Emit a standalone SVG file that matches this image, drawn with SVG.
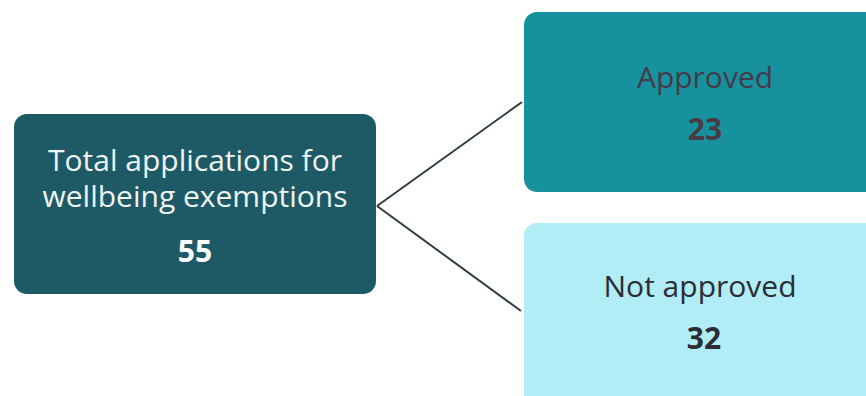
<svg xmlns="http://www.w3.org/2000/svg" width="866" height="396" viewBox="0 0 866 396">
<style>
.t{font-family:"Open Sans","Noto Sans","Liberation Sans",sans-serif;font-size:30px;text-anchor:middle}
.b{font-weight:bold}
.ln{stroke:#2e3d3e;stroke-width:2;fill:none}
</style>
<rect width="866" height="396" fill="#ffffff"/>
<g id="connectors">
<path class="ln" d="M377 206 L522 102"/>
<path class="ln" d="M377 206 L521 311"/>
</g>
<g id="total">
<rect x="14" y="114" width="362" height="180" rx="13" fill="#1e5a66"/>
<text class="t" x="195" y="171" fill="#eef4f4">Total applications for</text>
<text class="t" x="195" y="207" fill="#eef4f4">wellbeing exemptions</text>
<text class="t b" x="195" y="262" fill="#ffffff">55</text>
</g>
<g id="approved">
<rect x="524" y="12" width="360" height="180" rx="13" fill="#17919e"/>
<text class="t" x="705" y="88" fill="#443a4a">Approved</text>
<text class="t b" x="705" y="140" fill="#4a3a45">23</text>
</g>
<g id="notapproved">
<rect x="524" y="223" width="360" height="190" rx="13" fill="#b0edf6"/>
<text class="t" x="700" y="297" fill="#2c2c34">Not approved</text>
<text class="t b" x="704" y="349" fill="#2c2c34">32</text>
</g>
</svg>
